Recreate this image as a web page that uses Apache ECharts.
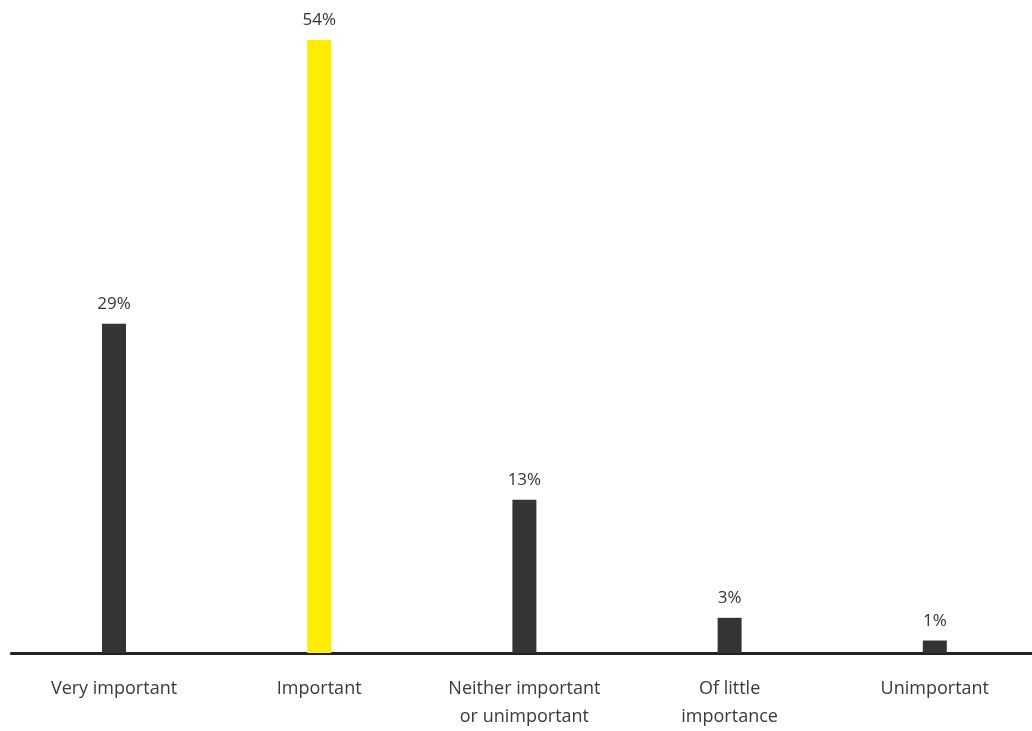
<!DOCTYPE html>
<html><head><meta charset="utf-8">
<script src="https://cdn.jsdelivr.net/npm/echarts@6/dist/echarts.min.js"></script>
<style>html,body{margin:0;padding:0;background:#fff;overflow:hidden;width:1032px;height:731px}#c{width:1038px;height:731px}</style>
</head><body><div id="c"></div>
<script>
const categories = ["Very important", "Important", "Neither important\nor unimportant", "Of little\nimportance", "Unimportant"];
const values = [29, 54, 13.49, 3.1, 1.1];
const barColors = ["#343432", "#FFED00", "#343432", "#343432", "#343432"];

const chart = echarts.init(document.getElementById('c'));
chart.setOption({
  animation: false,
  grid: { left: 11.4, right: 0.6, top: 40, bottom: 77, containLabel: false },
  xAxis: {
    type: 'category', data: categories,
    axisLine: { lineStyle: { color: '#222222', width: 3 } },
    axisTick: { show: false },
    axisLabel: { color: '#3a3a3a', fontSize: 18, fontFamily: 'Open Sans', margin: 22, lineHeight: 28, interval: 0 }
  },
  yAxis: { type: 'value', min: 0, max: 54, show: false, splitLine: { show: false } },
  series: [{
    type: 'bar', barWidth: 24,
    data: values.map((v, i) => ({ value: v, itemStyle: { color: barColors[i] } })),
    label: { show: true, position: 'top', distance: 11, color: '#333333', fontSize: 17, fontFamily: 'Open Sans',
      formatter: p => Math.round(p.value) + '%' }
  }]
});
</script></body></html>
